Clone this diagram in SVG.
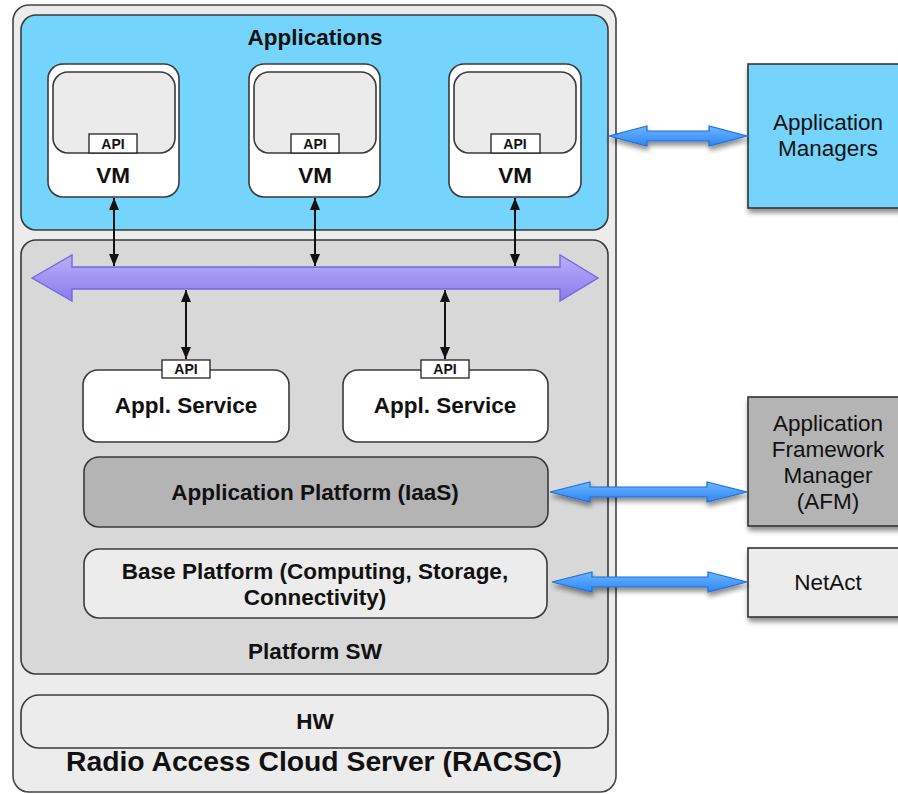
<svg xmlns="http://www.w3.org/2000/svg" width="898" height="794" viewBox="0 0 898 794">
  <style>
    text { font-family: "Liberation Sans", Arial, Helvetica, sans-serif; fill: #111; text-anchor: middle; }
    .b { font-weight: bold; }
    .box { stroke: #3a3a3a; stroke-width: 1.6; }
    .frame { fill: #ececec; stroke: #444; stroke-width: 1.6; }
    .apps { fill: #75d4fb; }
    .psw { fill: #d8d8d8; }
    .white { fill: #ffffff; }
    .inner { fill: #ebebeb; }
    .api { fill: #ffffff; stroke: #222; stroke-width: 1.3; }
    .iaas { fill: #b4b4b4; }
    .light { fill: #ececec; }
    .lbl { font-size: 22.5px; }
    .small { font-size: 14px; }
    .link { stroke: #111; stroke-width: 2; fill: none; marker-start: url(#tri); marker-end: url(#tri); }
    .bus { fill: url(#busFill); stroke: #7567dd; stroke-width: 1.4; }
    .ext { fill: url(#extFill); stroke: #1f6fd8; stroke-width: 1.2; filter: url(#shadow); }
    .mgr { stroke: #333; stroke-width: 1.6; filter: url(#shadow); }
  </style>
  <defs>
    <marker id="tri" viewBox="0 0 12 10" markerWidth="12" markerHeight="10" refX="12" refY="5" orient="auto-start-reverse" markerUnits="userSpaceOnUse">
      <path d="M0,0 L12,5 L0,10 z" fill="#111"/>
    </marker>
    <linearGradient id="busFill" x1="0" y1="0" x2="0" y2="1">
      <stop offset="0" stop-color="#b9aef8"/>
      <stop offset="1" stop-color="#8a7bee"/>
    </linearGradient>
    <linearGradient id="extFill" x1="0" y1="0" x2="0" y2="1">
      <stop offset="0" stop-color="#6cb6ff"/>
      <stop offset="1" stop-color="#2f86f5"/>
    </linearGradient>
    <filter id="shadow" x="-10%" y="-20%" width="130%" height="160%">
      <feGaussianBlur in="SourceAlpha" stdDeviation="2.5"/>
      <feOffset dx="1" dy="4" result="off"/>
      <feComponentTransfer><feFuncA type="linear" slope="0.45"/></feComponentTransfer>
      <feMerge><feMergeNode/><feMergeNode in="SourceGraphic"/></feMerge>
    </filter>
  </defs>

  <!-- server frame -->
  <g id="racsc">
    <rect class="frame" x="13" y="5" width="603" height="787" rx="16"/>
    <text class="b" x="314" y="771" font-size="27" textLength="496" lengthAdjust="spacingAndGlyphs">Radio Access Cloud Server (RACSC)</text>
  </g>

  <!-- application layer -->
  <g id="applications">
    <rect class="box apps" x="21" y="15" width="587" height="215" rx="15"/>
    <text class="b lbl" x="315" y="45">Applications</text>
  </g>

  <g id="vm1">
    <rect class="box white" x="48" y="64" width="131" height="133" rx="15"/>
    <rect class="box inner" x="53" y="72" width="122" height="81" rx="15"/>
    <rect class="api" x="89" y="134" width="48" height="19"/>
    <text class="b small" x="113" y="149">API</text>
    <text class="b lbl" x="113" y="183">VM</text>
  </g>
  <g id="vm2">
    <rect class="box white" x="249" y="64" width="131" height="133" rx="15"/>
    <rect class="box inner" x="254" y="72" width="122" height="81" rx="15"/>
    <rect class="api" x="291" y="134" width="48" height="19"/>
    <text class="b small" x="315" y="149">API</text>
    <text class="b lbl" x="315" y="183">VM</text>
  </g>
  <g id="vm3">
    <rect class="box white" x="449" y="64" width="132" height="133" rx="15"/>
    <rect class="box inner" x="454" y="72" width="122" height="81" rx="15"/>
    <rect class="api" x="491" y="134" width="49" height="19"/>
    <text class="b small" x="515" y="149">API</text>
    <text class="b lbl" x="515" y="183">VM</text>
  </g>

  <!-- platform software layer -->
  <g id="platform-sw">
    <rect class="box psw" x="21" y="240" width="587" height="434" rx="15"/>
    <text class="b lbl" x="315" y="659">Platform SW</text>
  </g>

  <g id="appl-service-1">
    <rect class="box white" x="83" y="370" width="206" height="72" rx="15"/>
    <rect class="api" x="162" y="360" width="48" height="18"/>
    <text class="b small" x="186" y="374">API</text>
    <text class="b lbl" x="186" y="413">Appl. Service</text>
  </g>
  <g id="appl-service-2">
    <rect class="box white" x="343" y="370" width="205" height="72" rx="15"/>
    <rect class="api" x="421" y="360" width="48" height="18"/>
    <text class="b small" x="445" y="374">API</text>
    <text class="b lbl" x="445" y="413">Appl. Service</text>
  </g>

  <g id="app-platform">
    <rect class="box iaas" x="84" y="457" width="464" height="70" rx="15"/>
    <text class="b lbl" x="315" y="500">Application Platform (IaaS)</text>
  </g>

  <g id="base-platform">
    <rect class="box light" x="84" y="549" width="463" height="69" rx="15"/>
    <text class="b lbl" x="315" y="579">Base Platform (Computing, Storage,</text>
    <text class="b lbl" x="315" y="605">Connectivity)</text>
  </g>

  <!-- hardware -->
  <g id="hw">
    <rect class="box light" x="21" y="695" width="587" height="53" rx="18"/>
    <text class="b lbl" x="315" y="729">HW</text>
  </g>

  <!-- external managers -->
  <g id="app-managers">
    <rect class="mgr apps" x="748" y="64" width="165" height="144"/>
    <text class="lbl" x="828" y="130">Application</text>
    <text class="lbl" x="828" y="156">Managers</text>
  </g>
  <g id="afm">
    <rect class="mgr iaas" x="748" y="397" width="165" height="129"/>
    <text class="lbl" x="828" y="431">Application</text>
    <text class="lbl" x="828" y="457">Framework</text>
    <text class="lbl" x="828" y="483">Manager</text>
    <text class="lbl" x="828" y="509">(AFM)</text>
  </g>
  <g id="netact">
    <rect class="mgr light" x="748" y="548" width="165" height="69"/>
    <text class="lbl" x="828" y="590">NetAct</text>
  </g>

  <!-- connectors -->
  <g id="connectors">
    <polygon class="bus" points="32,278 72,255 72,267 560,267 560,255 598,278 560,301 560,289 72,289 72,301"/>
    <line class="link" x1="114" y1="198" x2="114" y2="266"/>
    <line class="link" x1="315" y1="198" x2="315" y2="266"/>
    <line class="link" x1="515" y1="198" x2="515" y2="266"/>
    <line class="link" x1="186" y1="290" x2="186" y2="359"/>
    <line class="link" x1="445" y1="290" x2="445" y2="359"/>
    <polygon class="ext" points="609,136 647,126 647,131 709,131 709,126 747,136 709,146 709,141 647,141 647,146"/>
    <polygon class="ext" points="550,492 590,482 590,487 707,487 707,482 747,492 707,502 707,497 590,497 590,502"/>
    <polygon class="ext" points="552,582 592,572 592,577 708,577 708,572 747,582 708,592 708,587 592,587 592,592"/>
  </g>
</svg>
